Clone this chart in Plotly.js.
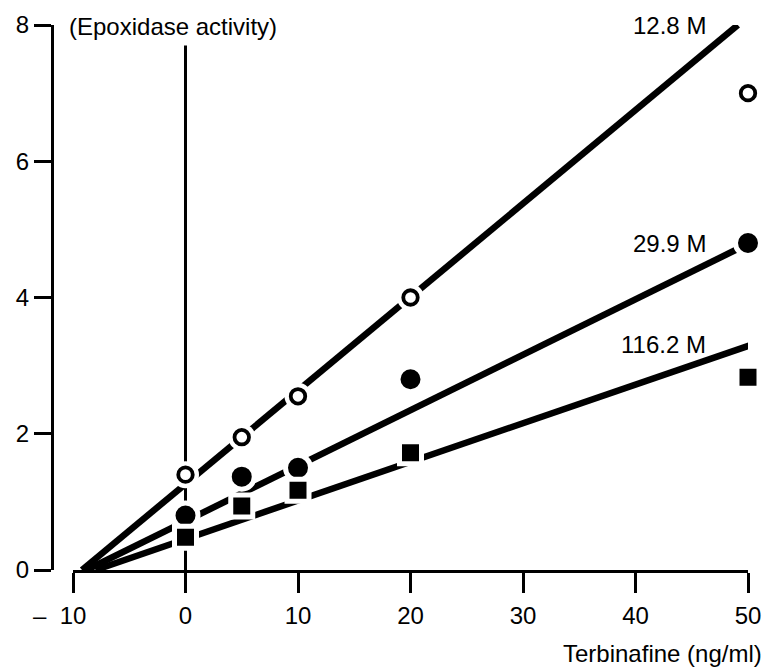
<!DOCTYPE html>
<html>
<head>
<meta charset="utf-8">
<script src="https://cdn.plot.ly/plotly-3.0.1.min.js"></script>
<style>html,body{margin:0;padding:0;background:#fff}#chart{width:769px;height:667px}</style>
</head>
<body>
<div id="chart"></div>
<script>
// ---- data ----
var doseX = [0, 5, 10, 20, 50];
var open128Y = [1.4, 1.95, 2.55, 4.0, 7.0];
var filled299Y = [0.8, 1.37, 1.5, 2.8, 4.8];
var square1162Y = [0.48, 0.94, 1.17, 1.72, 2.83];

var fit128X = [-9.2, 49.1];
var fit128Y = [0, 8.0];
var fit299X = [-8.8, 49.3];
var fit299Y = [0, 4.73];
var fit1162X = [-8.0, 50.2];
var fit1162Y = [0, 3.3];

var seriesLabels = ['12.8 M', '29.9 M', '116.2 M'];
var labelX = [46.45, 46.4, 46.4];
var labelY = [8.0, 4.79, 3.31];

var xTickVals = [-10, 0, 10, 20, 30, 40, 50];
var xTickText = ['\u2013\u00a0\u00a010\u00a0\u00a0\u00a0\u00a0', '0', '10', '20', '30', '40', '50'];
var yTickVals = [0, 2, 4, 6, 8];
var yTickText = ['0', '2', '4', '6', '8'];

var refLineX = 0;
var refLineTop = 7.7;

var yTitle = '(Epoxidase activity)';
var xTitle = 'Terbinafine (ng/ml)';

// ---- layout helpers ----
var W = 769, H = 667;
var FONT = 'Liberation Sans, Arial, Helvetica, sans-serif';
var FS = 24;

var X0 = 73, X1 = 748, Y0 = 570, Y1 = 25;   // pixel frame of the axes
var xRange = [-10, 50], yRange = [0, 8];
function xPaper(v) { return (X0 + (v - xRange[0]) / (xRange[1] - xRange[0]) * (X1 - X0)) / W; }
function yPaper(v) { return 1 - (Y0 - (v - yRange[0]) / (yRange[1] - yRange[0]) * (Y0 - Y1)) / H; }

function lineTrace(x, y) {
  return {x: x, y: y, type: 'scatter', mode: 'lines', hoverinfo: 'skip',
          line: {color: '#000', width: 6.5}, showlegend: false, cliponaxis: false};
}

var traces = [
  lineTrace(fit128X, fit128Y),
  lineTrace(fit299X, fit299Y),
  lineTrace(fit1162X, fit1162Y),
  {x: doseX, y: open128Y, type: 'scatter', mode: 'markers', showlegend: false, cliponaxis: false,
   marker: {symbol: 'circle', size: 27, color: '#fff', line: {width: 0}}},
  {x: doseX, y: open128Y, type: 'scatter', mode: 'markers', showlegend: false, cliponaxis: false,
   marker: {symbol: 'circle', size: 14.5, color: '#fff', line: {color: '#000', width: 3.8}}},
  {x: doseX, y: filled299Y, type: 'scatter', mode: 'markers', showlegend: false, cliponaxis: false,
   marker: {symbol: 'circle', size: 25, color: '#000', line: {color: '#fff', width: 5}}},
  {x: doseX, y: square1162Y, type: 'scatter', mode: 'markers', showlegend: false, cliponaxis: false,
   marker: {symbol: 'square', size: 22, color: '#000', line: {color: '#fff', width: 5}}}
];

var annotations = seriesLabels.map(function (t, i) {
  return {x: xPaper(labelX[i]), y: yPaper(labelY[i]), xref: 'paper', yref: 'paper', text: t, showarrow: false,
          xanchor: 'right', yanchor: 'middle', font: {family: FONT, size: FS, color: '#000'}};
});
annotations.push({x: 67 / W, y: yPaper(7.98), xref: 'paper', yref: 'paper', text: yTitle, showarrow: false,
  xanchor: 'left', yanchor: 'middle', font: {family: FONT, size: FS, color: '#000'}});
annotations.push({x: 764 / W, y: 1 - 653 / H, xref: 'paper', yref: 'paper', text: xTitle, showarrow: false,
  xanchor: 'right', yanchor: 'middle', font: {family: FONT, size: FS, color: '#000'}});

var layout = {
  width: W, height: H,
  margin: {l: 0, r: 0, t: 0, b: 0, pad: 0},
  paper_bgcolor: '#fff', plot_bgcolor: 'rgba(0,0,0,0)',
  showlegend: false,
  font: {family: FONT, size: FS, color: '#000'},
  xaxis: {
    domain: [X0 / W, X1 / W], range: xRange, anchor: 'y',
    showgrid: false, zeroline: false, showline: true, linecolor: '#000', linewidth: 3,
    ticks: 'outside', ticklen: 20, tickwidth: 3, tickcolor: '#000', ticklabelstandoff: 2,
    tickmode: 'array', tickvals: xTickVals, ticktext: xTickText,
    tickfont: {family: FONT, size: FS, color: '#000'}, automargin: false, fixedrange: true
  },
  yaxis: {
    domain: [1 - Y0 / H, 1 - Y1 / H], range: yRange, anchor: 'free', position: 52 / W,
    showgrid: false, zeroline: false, showline: true, linecolor: '#000', linewidth: 3,
    ticks: 'outside', ticklen: 17, tickwidth: 3, tickcolor: '#000',
    tickmode: 'array', tickvals: yTickVals, ticktext: yTickText,
    tickfont: {family: FONT, size: FS, color: '#000'}, automargin: false, fixedrange: true
  },
  shapes: [{type: 'line', xref: 'x', yref: 'y', x0: refLineX, x1: refLineX, y0: 0, y1: refLineTop,
            line: {color: '#000', width: 3}, layer: 'below'}],
  annotations: annotations
};

Plotly.newPlot('chart', traces, layout, {staticPlot: true, displayModeBar: false});
</script>
</body>
</html>
